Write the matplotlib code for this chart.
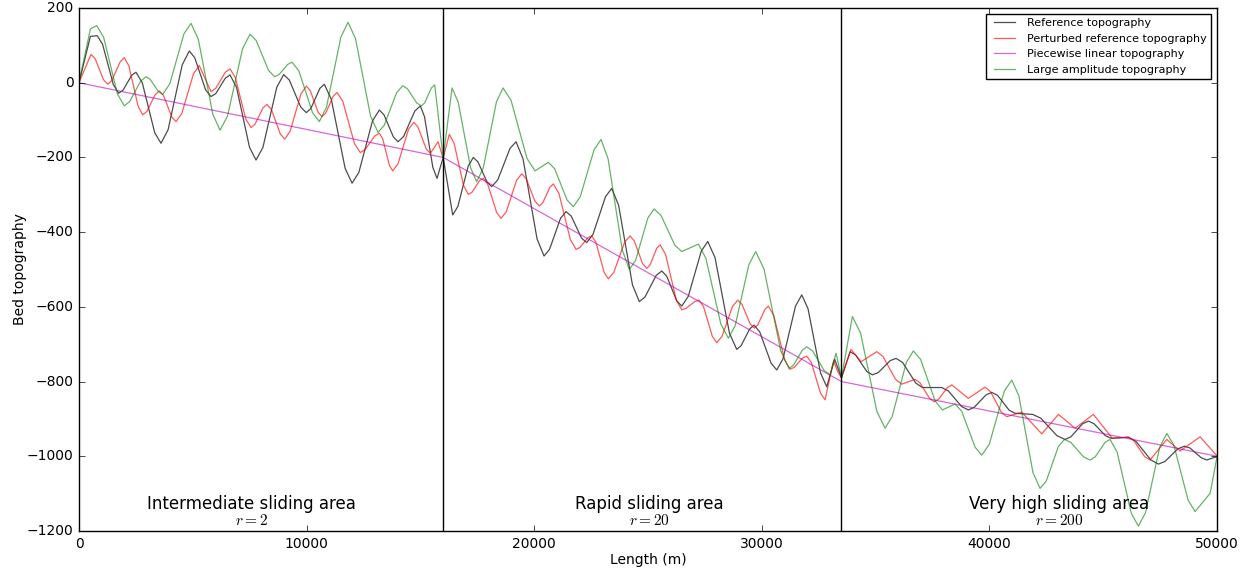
import matplotlib
matplotlib.use('Agg')
import matplotlib.pyplot as plt

# data (length in m, bed elevation)
ref_x = [0, 500, 800, 1036, 1508, 1744, 1934, 2315, 2505, 2780, 3328, 3603, 3914, 4536, 4847, 5085,
         5562, 5800, 6009, 6426, 6635, 6920, 7492, 7777, 8081, 8690, 8994, 9242, 9740, 9988, 10186,
         10582, 10780, 11084, 11692, 11996, 12296, 12896, 13196, 13401, 13812, 14017, 14262, 14752,
         14997, 15180, 15548, 15731, 16000, 16420, 16647, 17100, 17326, 17528, 17931, 18133, 18400,
         18935, 19202, 19510, 20125, 20432, 20674, 21157, 21399, 21626, 22081, 22308, 22583, 23132,
         23406, 23709, 24316, 24619, 24865, 25358, 25604, 25824, 26263, 26483, 26769, 27340, 27625,
         27944, 28581, 28899, 29089, 29470, 29660, 29909, 30408, 30657, 30932, 31481, 31756, 32031,
         32580, 32854, 33200, 33500, 33878, 34123, 34613, 34858, 35118, 35639, 35899, 36188, 36765,
         37054, 37900, 38194, 38781, 39075, 39332, 39846, 40103, 40359, 40872, 41128, 41900, 42256,
         42969, 43325, 43581, 44093, 44349, 44599, 45098, 45347, 46108, 46438, 47097, 47426, 47712,
         48283, 48568, 48814, 49306, 49552, 50000]
ref_y = [0, 124, 126, 103, -5, -28, -20, 20, 28, 0, -134, -162, -126, 48, 85, 67,
         -19, -37, -29, 12, 21, -12, -173, -207, -173, -12, 22, 7, -65, -80, -69,
         -15, -4, -44, -229, -269, -240, -102, -73, -86, -145, -158, -144, -76,
         -62, -91, -227, -256, -200, -354, -331, -223, -200, -212, -266, -278, -260,
         -176, -158, -204, -418, -464, -446, -363, -345, -357, -416, -428, -406, -305,
         -283, -328, -541, -586, -574, -516, -504, -518, -584, -598, -572, -451, -425,
         -468, -671, -714, -704, -659, -649, -667, -751, -769, -739, -598, -568, -605,
         -777, -814, -740, -790, -720, -729, -773, -782, -776, -744, -738, -749, -804,
         -816, -816, -825, -867, -876, -869, -836, -829, -837, -877, -885, -888, -898,
         -945, -955, -948, -913, -906, -913, -945, -952, -949, -960, -1010, -1021, -1014,
         -980, -973, -978, -1004, -1010, -1001]

pert_x = [0, 527, 711, 1077, 1261, 1444, 1808, 1991, 2193, 2597, 2799, 2981, 3346, 3528, 3712, 4079,
          4262, 4518, 5030, 5286, 5800, 6009, 6426, 6635, 6866, 7327, 7558, 7734, 8085, 8261, 8455,
          8844, 9038, 9276, 9751, 9988, 10160, 10505, 10677, 10842, 11171, 11336, 11592, 12104, 12360,
          12569, 12987, 13196, 13343, 13637, 13784, 14015, 14476, 14707, 14889, 15254, 15436, 15775,
          16000, 16271, 16480, 16897, 17106, 17271, 17600, 17765, 17960, 18348, 18543, 18770, 19225,
          19452, 19646, 20033, 20226, 20380, 20687, 20841, 21090, 21589, 21838, 22011, 22356, 22528,
          22710, 23075, 23257, 23496, 23973, 24211, 24394, 24761, 24944, 25091, 25384, 25530, 25768,
          26245, 26483, 26673, 27053, 27243, 27437, 27826, 28020, 28251, 28712, 28943, 29126, 29491,
          29673, 29827, 30134, 30288, 30526, 31003, 31241, 31425, 31792, 31975, 32176, 32579, 32780,
          33150, 33350, 33500, 33920, 34361, 35050, 35325, 35874, 36149, 36734, 36946, 37370, 37582,
          37773, 38156, 38347, 39075, 39809, 40047, 40524, 40762, 41421, 42301, 43033, 43765, 44569,
          45404, 46100, 46340, 46819, 47058, 47792, 48377, 49256, 50000]
pert_y = [0, 76, 64, 8, -4, 6, 56, 67, 45, -63, -86, -77, -32, -22, -34, -92,
          -104, -82, 24, 46, -24, -15, 28, 37, 14, -97, -120, -111, -67, -58, -72,
          -137, -151, -130, -30, -9, -21, -79, -91, -81, -36, -26, -50, -163, -187,
          -179, -143, -135, -150, -221, -236, -217, -125, -106, -118, -177, -189, -158,
          -202, -138, -162, -275, -299, -293, -262, -256, -272, -347, -363, -346, -261,
          -244, -257, -317, -330, -321, -280, -271, -297, -420, -446, -441, -415, -410,
          -427, -508, -525, -508, -427, -410, -423, -484, -497, -488, -443, -434, -459,
          -582, -608, -604, -586, -582, -599, -679, -696, -679, -599, -582, -593, -646,
          -657, -648, -607, -598, -623, -742, -767, -762, -737, -732, -749, -831, -849,
          -745, -775, -790, -714, -747, -720, -733, -794, -807, -794, -803, -845, -854,
          -847, -816, -809, -845, -815, -827, -882, -894, -882, -940, -888, -925, -888,
          -952, -949, -958, -1001, -1010, -955, -986, -948, -999]

pw_x = [0, 16000, 33500, 50000]
pw_y = [0, -200, -800, -1000]

large_x = [0, 500, 778, 1081, 1688, 1991, 2229, 2706, 2944, 3128, 3495, 3678, 3989, 4610, 4921, 5240,
           5877, 6196, 6526, 7185, 7514, 7785, 8328, 8599, 8789, 9169, 9359, 9659, 10259, 10560, 10875,
           11505, 11820, 12150, 12809, 13138, 13409, 13952, 14223, 14428, 14837, 15041, 15188, 15482,
           15629, 16000, 16390, 16661, 17203, 17474, 17763, 18342, 18631, 18982, 19685, 20036, 20621,
           20896, 21445, 21720, 22024, 22633, 22937, 23248, 23870, 24181, 24452, 24995, 25266, 25570,
           26179, 26483, 27213, 27543, 28201, 28531, 28831, 29432, 29732, 30098, 30831, 31197, 31392,
           31781, 31975, 32231, 32744, 33000, 33263, 33500, 33980, 34339, 35056, 35415, 35726, 36349,
           36660, 36979, 37616, 37934, 38493, 38786, 39373, 39666, 39995, 40653, 40982, 41293, 41915,
           42226, 42494, 43029, 43296, 43578, 44141, 44423, 44643, 45081, 45301, 45612, 46235, 46546,
           46858, 47481, 47792, 48104, 48727, 49038, 49700, 50000]
large_y = [0, 144, 153, 122, -30, -62, -50, 4, 16, 9, -24, -31, -3, 131, 159, 117,
           -84, -127, -89, 91, 130, 113, 33, 16, 22, 49, 55, 32, -80, -104, -65,
           122, 162, 118, -89, -133, -114, -27, -8, -16, -54, -62, -54, -14,
           -6, -202, -14, -52, -227, -265, -228, -51, -14, -47, -203, -236, -213,
           -230, -314, -332, -305, -179, -152, -204, -448, -500, -476, -362, -338, -355,
           -435, -452, -432, -470, -646, -684, -650, -487, -452, -499, -718, -765, -756,
           -716, -707, -718, -771, -782, -724, -790, -626, -670, -880, -925, -894, -749,
           -718, -741, -852, -876, -860, -880, -976, -997, -968, -826, -796, -838, -1044,
           -1086, -1067, -974, -955, -963, -1002, -1010, -1002, -963, -955, -989, -1153, -1187,
           -1151, -976, -939, -970, -1117, -1148, -1099, -1001]

bounds = [16000, 33500]
areas = ['Intermediate sliding area', 'Rapid sliding area', 'Very high sliding area']
area_r = ['$r=2$', '$r=20$', '$r=200$']
area_pos = [7560, 25050, 43050]

plt.style.use('classic')
plt.rcParams['figure.facecolor'] = 'white'
plt.rcParams['savefig.facecolor'] = 'white'

fig = plt.figure(figsize=(12.54, 5.74), dpi=100)
ax = fig.add_axes([0.063, 0.075, 0.9075, 0.911])

ax.plot(ref_x, ref_y, color='k', alpha=0.7, lw=0.9, label='Reference topography')
ax.plot(pert_x, pert_y, color='r', alpha=0.65, lw=0.9, label='Perturbed reference topography')
ax.plot(pw_x, pw_y, color='m', alpha=0.6, lw=0.9, label='Piecewise linear topography')
ax.plot(large_x, large_y, color='g', alpha=0.6, lw=0.9, label='Large amplitude topography')

for b in bounds:
    ax.axvline(b, color='k', lw=1)

for name, r, xp in zip(areas, area_r, area_pos):
    ax.text(xp, -1128, name, ha='center', va='center', fontsize=12)
    ax.text(xp, -1173, r, ha='center', va='center', fontsize=11)

ax.set_xlim(0, 50000)
ax.set_ylim(-1200, 200)
ax.set_xticks(range(0, 50001, 10000))
ax.set_yticks(range(-1200, 201, 200))
ax.tick_params(labelsize=10)
ax.set_xlabel('Length (m)', fontsize=10, labelpad=2)
ax.set_ylabel('Bed topography', fontsize=10, labelpad=0)
ax.legend(loc='upper right', fontsize=8, handlelength=2.5)

fig.savefig('out.png', dpi=100)
